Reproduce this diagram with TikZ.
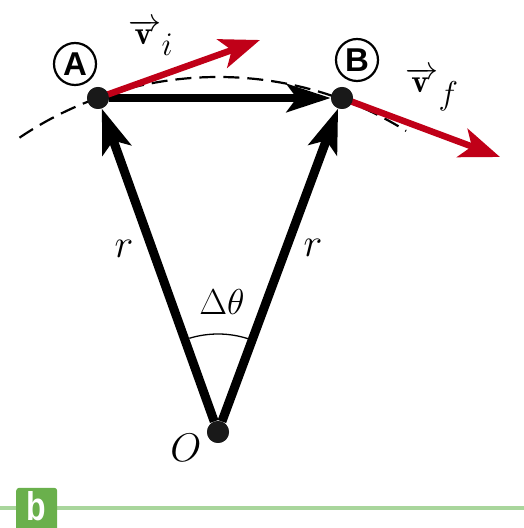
\RequirePackage{fix-cm}
\documentclass[tikz,border=0pt]{standalone}
\usepackage{fontspec}
\newfontfamily\hv{Liberation Sans}
\usetikzlibrary{arrows.meta}
\definecolor{vred}{HTML}{C00018}
\definecolor{gbox}{HTML}{6AB04C}
\definecolor{gline}{HTML}{A9D69C}
\begin{document}
\begin{tikzpicture}[x=1pt,y=1pt,
  dotn/.style={circle,fill=black!90,inner sep=0pt,minimum size=22pt},
  radial/.style={line width=9pt,-{Stealth[length=44pt,width=30pt,inset=10pt]}},
  chord/.style={line width=8pt,-{Stealth[length=44pt,width=28pt,inset=10pt]}},
  velo/.style={vred,line width=6.5pt,-{Stealth[length=40pt,width=30pt,inset=10pt]}},
  circlab/.style={circle,draw,line width=2.2pt,minimum size=42pt,inner sep=0pt,font=\hv\bfseries\fontsize{33}{33}\selectfont},
  mlab/.style={font=\fontsize{40}{44}\selectfont},
  vlab/.style={font=\fontsize{33}{36}\selectfont,anchor=base,inner sep=0pt}]
\useasboundingbox (0,0) rectangle (524,528);
% points
\node[dotn] (O) at (218,96) {};
\node[dotn] (A) at (98,430) {};
\node[dotn] (B) at (342,430) {};
\coordinate (vi) at (260,488);
\coordinate (vf) at (500,371);
% dashed arc
\draw[line width=2.2pt,dash pattern=on 16pt off 8pt] ([shift={(124:355)}]O.center) arc (124:58:355);
% angle arc
\draw[line width=1.3pt] ([shift={(107:98)}]O.center) arc (107:72:98);
% radial arrows
\draw[radial] (O) -- (A);
\draw[radial] (O) -- (B);
\draw[chord] (A) -- (B);
% velocity vectors
\draw[velo] (A.center) -- (vi);
\draw[velo] (B.center) -- (vf);
\node[dotn] at (A) {};
\node[dotn] at (B) {};
\node[dotn] at (O) {};
% labels
\node[circlab] (lA) at (75,464) {A};
\node[circlab] (lB) at (357,468) {B};
\node[vlab] (lvi) at (151,483) {$\overrightarrow{\mathbf{v}\mkern2mu}_{\textstyle i}$};
\node[vlab] (lvf) at (432,435) {$\overrightarrow{\mathbf{v}\mkern2mu}_{\textstyle f}$};
\node[mlab] (r1) at (124,279) {$r$};
\node[mlab] (r2) at (313,280) {$r$};
\node[font=\fontsize{36}{40}\selectfont] (dt) at (222,226) {$\Delta\theta$};
\node[mlab] (lO) at (186,80) {$O$};
% bottom bar
\draw[gline,line width=3.5pt] (0,20) -- (524,20);
\node[fill=gbox,rounded corners=3pt,minimum width=41pt,minimum height=44pt,inner sep=0pt,anchor=south west] (bx) at (16,-4) {};
\node[text=white,font=\hv\bfseries\fontsize{40}{40}\selectfont,xscale=0.8,transform shape] at (36.5,22) {b};
\end{tikzpicture}
\end{document}
